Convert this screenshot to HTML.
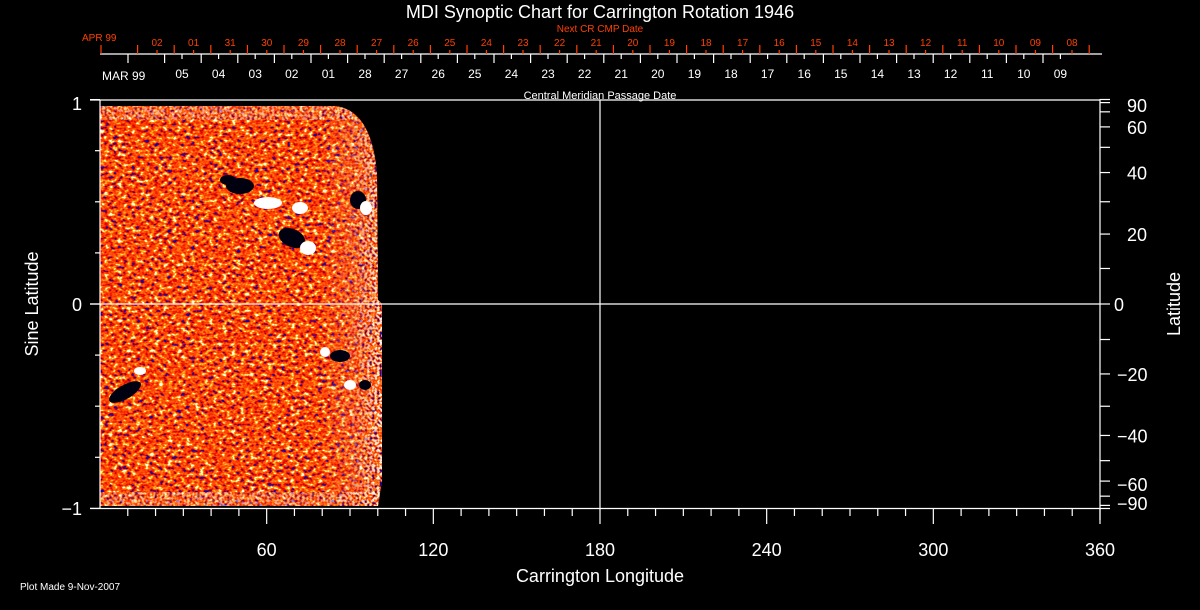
<!DOCTYPE html>
<html><head><meta charset="utf-8"><style>
html,body{margin:0;padding:0;background:#000;width:1200px;height:610px;overflow:hidden}
svg{display:block}
text{font-family:"Liberation Sans",sans-serif}
</style></head><body>
<svg id="s" width="1200" height="610" viewBox="0 0 1200 610" xmlns="http://www.w3.org/2000/svg">
<defs>
<filter id="noise" x="0" y="0" width="100%" height="100%" color-interpolation-filters="sRGB">
<feTurbulence type="fractalNoise" baseFrequency="0.22 0.3" numOctaves="2" seed="7" result="t"/>
<feColorMatrix type="matrix" values="2 0 0 0 -0.5  2 0 0 0 -0.5  2 0 0 0 -0.5  0 0 0 0 1"/>
<feComponentTransfer>
<feFuncR type="discrete" tableValues="0.05 0.85 0.9 0.95 1 1 1 1 1 1"/>
<feFuncG type="discrete" tableValues="0 0 0.05 0.15 0.25 0.3 0.45 0.55 0.8 1"/>
<feFuncB type="discrete" tableValues="0.7 0 0 0 0 0.05 0.05 0.1 0.1 0.9"/>
</feComponentTransfer>
</filter>
<filter id="edge" x="0" y="0" width="100%" height="100%" color-interpolation-filters="sRGB">
<feTurbulence type="fractalNoise" baseFrequency="0.4" numOctaves="1" seed="3"/>
<feColorMatrix type="matrix" values="2 0 0 0 -0.5  2 0 0 0 -0.5  2 0 0 0 -0.5  0 0 0 0 1"/>
<feComponentTransfer>
<feFuncR type="discrete" tableValues="0 1 1 1 1"/>
<feFuncG type="discrete" tableValues="0 0.2 0.5 1 1"/>
<feFuncB type="discrete" tableValues="0.7 0 0.1 1 1"/>
</feComponentTransfer>
</filter>
<clipPath id="map"><path d="M100,106 L335,106 Q372,110 377,175 L378,300 L382,304 L382,480 L378,506 L100,506 Z"/></clipPath>
<linearGradient id="eg" x1="0" x2="1"><stop offset="0" stop-color="#fff" stop-opacity="0"/><stop offset="0.5" stop-color="#fff" stop-opacity="0.3"/><stop offset="1" stop-color="#fff" stop-opacity="1"/></linearGradient>
<mask id="em"><rect x="320" y="100" width="65" height="410" fill="url(#eg)"/><rect x="100" y="106" width="290" height="14" fill="#fff" opacity="0.5"/><rect x="100" y="492" width="290" height="16" fill="#fff" opacity="0.5"/></mask>
</defs>
<g clip-path="url(#map)">
<rect x="100" y="100" width="290" height="410" fill="#e03008"/>
<rect x="100" y="100" width="290" height="410" filter="url(#noise)"/>
<rect x="100" y="100" width="290" height="410" filter="url(#edge)" mask="url(#em)"/>
<g fill="#000010">
<ellipse cx="240" cy="186" rx="14" ry="8"/><ellipse cx="228" cy="180" rx="8" ry="5"/>
<ellipse cx="292" cy="238" rx="14" ry="9" transform="rotate(25 292 238)"/>
<ellipse cx="358" cy="200" rx="8" ry="9"/>
<ellipse cx="340" cy="356" rx="10" ry="6"/>
<ellipse cx="125" cy="392" rx="18" ry="7" transform="rotate(-30 125 392)"/>
<ellipse cx="365" cy="385" rx="6" ry="5"/>
</g>
<g fill="#fff">
<ellipse cx="268" cy="203" rx="14" ry="6"/><ellipse cx="300" cy="208" rx="8" ry="6"/>
<ellipse cx="308" cy="248" rx="8" ry="7"/>
<ellipse cx="366" cy="208" rx="6" ry="7"/>
<ellipse cx="325" cy="352" rx="5" ry="5"/><ellipse cx="350" cy="385" rx="6" ry="5"/>
<ellipse cx="140" cy="371" rx="6" ry="4"/>
</g>
</g>
<g id="ax" stroke="#fff" stroke-width="1.2" fill="none">
<line x1="90" y1="100" x2="1100" y2="100"/>
<line x1="90" y1="508.5" x2="1100" y2="508.5"/>
<line x1="100" y1="100" x2="100" y2="508.5"/>
<line x1="1100" y1="99" x2="1100" y2="520"/>
<line x1="90" y1="304" x2="1100" y2="304"/>
<line x1="600" y1="100" x2="600" y2="508.5"/>
<line x1="100" y1="54" x2="1102" y2="54"/>
</g>
<g fill="#fff" font-size="18">
<text x="600" y="18" text-anchor="middle" font-size="18">MDI Synoptic Chart for Carrington Rotation 1946</text>
<text x="600" y="99" text-anchor="middle" font-size="11">Central Meridian Passage Date</text>
<text x="102" y="80" font-size="12">MAR 99</text>
<text x="82" y="110" text-anchor="end">1</text>
<text x="82" y="311" text-anchor="end">0</text>
<text x="82" y="515" text-anchor="end">−1</text>
<text x="38" y="304" text-anchor="middle" transform="rotate(-90 38 304)">Sine Latitude</text>
<text x="1180" y="304" text-anchor="middle" transform="rotate(-90 1180 304)">Latitude</text>
<text x="600" y="582" text-anchor="middle">Carrington Longitude</text>
<text x="20" y="590" font-size="10">Plot Made  9-Nov-2007</text>
</g>
<g fill="#ff4000" font-size="10">
<text x="82" y="41">APR 99</text>
<text x="600" y="32" text-anchor="middle">Next CR CMP Date</text>
</g>
</svg>
<script>
var s=document.getElementById('s'),NS='http://www.w3.org/2000/svg';
function L(x1,y1,x2,y2,c){var l=document.createElementNS(NS,'line');l.setAttribute('x1',x1);l.setAttribute('y1',y1);l.setAttribute('x2',x2);l.setAttribute('y2',y2);l.setAttribute('stroke',c||'#fff');l.setAttribute('stroke-width','1.2');s.appendChild(l);}
function T(x,y,t,c,fs,a){var e=document.createElementNS(NS,'text');e.setAttribute('x',x);e.setAttribute('y',y);e.setAttribute('fill',c||'#fff');e.setAttribute('font-size',fs||18);e.setAttribute('text-anchor',a||'middle');e.textContent=t;s.appendChild(e);}
for(var d=10;d<=360;d+=10){var x=100+d*1000/360;var maj=d%60==0;L(x,508.5,x,maj?524:516);if(maj)T(x,556,String(d));}
for(var i=-4;i<=4;i++){var y=304-i*51.1;L(100,y,(i%4==0)?90:95,y);}
[90,80,70,60,50,40,30,20,10,0,-10,-20,-30,-40,-50,-60,-70,-80,-90].forEach(function(l){var y=304-204.5*Math.sin(l*Math.PI/180);L(1100,y,1110,y);});
[[90,'90'],[60,'60'],[40,'40'],[20,'20'],[0,'0'],[-20,'−20'],[-40,'−40'],[-60,'−60'],[-90,'−90']].forEach(function(p){var y=304-204.5*Math.sin(p[0]*Math.PI/180)+7;if(p[0]==90)y=112;if(p[0]==-90)y=510;if(p[0]==-60)y=491;T(p[0]<0?1117:(p[0]==0?1114:1127),y,p[1],'#fff',18,'start');});
var red=['02','01','31','30','29','28','27','26','25','24','23','22','21','20','19','18','17','16','15','14','13','12','11','10','09','08'];
for(var k=0;k<=27;k++){var x=101+k*36.6;if(x<=1102)L(x,54,x,45,'#ff4000');}
red.forEach(function(t,k){var x=157+k*36.6;L(x,54,x,50,'#ff4000');T(x,46,t,'#ff4000',10);});
var wh=['05','04','03','02','01','28','27','26','25','24','23','22','21','20','19','18','17','16','15','14','13','12','11','10','09'];
for(var k=0;k<26;k++){var x=128+k*36.6;L(x,54,x,63);}
wh.forEach(function(t,k){var x=182+k*36.6;L(x,54,x,59);T(x,78,t,'#fff',12);});
</script>
</body></html>
